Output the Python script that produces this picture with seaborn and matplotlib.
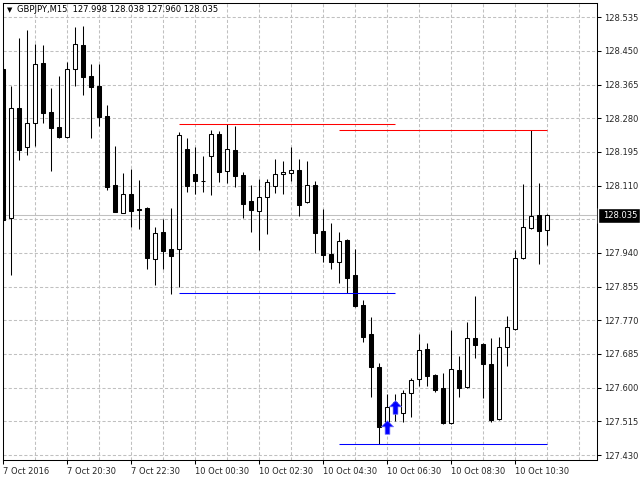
import numpy as np
import pandas as pd
import matplotlib
matplotlib.use("Agg")
import matplotlib.pyplot as plt
from matplotlib.patches import Rectangle
from matplotlib.path import Path
import seaborn as sns

# GBPJPY M15 bars
opens = [128.404, 128.028, 128.305, 128.207, 128.267, 128.419, 128.295, 128.257, 128.234, 128.404,
         128.465, 128.387, 128.362, 128.286, 128.112, 128.042, 128.089, 128.050, 128.053, 127.924,
         127.993, 127.949, 127.949, 128.202, 128.139, 128.122, 128.186, 128.240, 128.146, 128.200,
         128.137, 128.071, 128.047, 128.082, 128.110, 128.139, 128.143, 128.149, 128.069, 128.111,
         127.996, 127.937, 127.918, 127.972, 127.884, 127.809, 127.735, 127.652, 127.500, 127.565,
         127.537, 127.586, 127.621, 127.698, 127.632, 127.600, 127.510, 127.645, 127.601, 127.725,
         127.710, 127.660, 127.520, 127.702, 127.747, 127.927, 128.004, 128.036, 127.998]
highs = [128.419, 128.362, 128.482, 128.503, 128.467, 128.465, 128.356, 128.387, 128.423, 128.511,
         128.514, 128.417, 128.417, 128.314, 128.210, 128.141, 128.151, 128.124, 128.055, 128.005,
         128.026, 128.053, 128.245, 128.230, 128.208, 128.185, 128.250, 128.248, 128.265, 128.261,
         128.145, 128.112, 128.126, 128.126, 128.177, 128.171, 128.207, 128.177, 128.171, 128.121,
         128.050, 128.015, 127.993, 127.975, 127.950, 127.821, 127.778, 127.662, 127.584, 127.584,
         127.594, 127.624, 127.735, 127.712, 127.634, 127.636, 127.746, 127.680, 127.767, 127.831,
         127.713, 127.726, 127.729, 127.781, 127.948, 128.113, 128.250, 128.116, 128.038]
lows = [128.003, 127.884, 128.175, 128.187, 128.210, 128.267, 128.148, 128.230, 128.230, 128.362,
        128.339, 128.230, 128.261, 128.099, 128.043, 128.041, 128.005, 128.000, 127.899, 127.859,
        127.900, 127.836, 127.855, 128.095, 128.088, 128.095, 128.086, 128.120, 128.117, 128.107,
        128.029, 127.994, 127.948, 127.988, 128.092, 128.089, 128.122, 128.033, 128.067, 127.941,
        127.918, 127.900, 127.865, 127.839, 127.803, 127.716, 127.576, 127.457, 127.485, 127.516,
        127.514, 127.525, 127.605, 127.605, 127.590, 127.509, 127.508, 127.577, 127.599, 127.674,
        127.575, 127.514, 127.519, 127.655, 127.746, 127.924, 128.001, 127.912, 127.960]
closes = [128.023, 128.305, 128.200, 128.267, 128.416, 128.294, 128.256, 128.234, 128.404, 128.468,
          128.385, 128.360, 128.284, 128.107, 128.044, 128.089, 128.047, 128.049, 127.927, 127.990,
          127.946, 127.933, 128.238, 128.109, 128.122, 128.121, 128.240, 128.145, 128.202, 128.134,
          128.064, 128.049, 128.081, 128.118, 128.139, 128.144, 128.149, 128.062, 128.111, 127.991,
          127.935, 127.918, 127.970, 127.878, 127.806, 127.729, 127.651, 127.500, 127.552, 127.535,
          127.586, 127.619, 127.695, 127.630, 127.594, 127.510, 127.646, 127.598, 127.725, 127.708,
          127.659, 127.518, 127.703, 127.752, 127.927, 128.005, 128.033, 127.996, 128.035]

# support / resistance segments (price, first bar, last bar)
level_prices = [128.265, 128.250, 127.838, 127.457]
level_start = [22, 42, 22, 42]
level_end = [49, 68, 49, 68]
level_colors = ['#FF0000', '#FF0000', '#0000FF', '#0000FF']

# buy arrows
arrow_idx = [48, 49]
arrow_price = [127.500, 127.550]

bid = 128.035
y_ticks = [127.430, 127.515, 127.600, 127.685, 127.770, 127.855, 127.940,
           128.025, 128.110, 128.195, 128.280, 128.365, 128.450, 128.535]
x_tick_pos = [0, 8, 16, 24, 32, 40, 48, 56, 64]
x_tick_labels = ['7 Oct 2016', '7 Oct 20:30', '7 Oct 22:30', '10 Oct 00:30', '10 Oct 02:30',
                 '10 Oct 04:30', '10 Oct 06:30', '10 Oct 08:30', '10 Oct 10:30']
title = 'GBPJPY,M15  127.998 128.038 127.960 128.035'

df = pd.DataFrame({'open': opens, 'high': highs, 'low': lows, 'close': closes})
df['i'] = np.arange(len(df))
df['bottom'] = df[['open', 'close']].min(axis=1)
df['height'] = (df['close'] - df['open']).abs()
df['fill'] = np.where(df['close'] >= df['open'], 'white', 'black')

sns.set_style("white")
plt.rcParams['font.family'] = ['DejaVu Sans']

fig = plt.figure(figsize=(6.4, 4.8), dpi=100)
ax = fig.add_axes([2.7/640, 20/480, 594.3/640, 457/480])

# dashed grid
for y in y_ticks:
    ax.axhline(y, color='#C0C0C0', lw=0.75, ls=(0, (3, 2)), zorder=0)
for x in range(4, 73, 4):
    ax.axvline(x, color='#C0C0C0', lw=0.75, ls=(0, (3, 2)), zorder=0)

# bid line
ax.axhline(bid, color='#C0C0C0', lw=0.75, zorder=1)

# candles
ax.vlines(df['i'], df['low'], df['high'], color='black', lw=0.75, zorder=2)
ax.bar(df['i'], df['height'], bottom=df['bottom'], width=0.5, color=df['fill'],
       edgecolor='black', linewidth=0.75, zorder=3)

# levels
ax.hlines(level_prices, level_start, level_end, colors=level_colors, lw=0.75, zorder=4)

# arrows
arrow = Path([(0, 1), (0.9, 0.1), (0.35, 0.1), (0.35, -1), (-0.35, -1),
              (-0.35, 0.1), (-0.9, 0.1), (0, 1)])
sns.scatterplot(x=arrow_idx, y=arrow_price, marker=arrow, s=95, color='#0000FF',
                edgecolor='#7070FF', linewidth=0.5, ax=ax, zorder=5)

ax.set_xlim(-0.08, 74.2)
ax.set_ylim(127.4174, 128.571)

ax.yaxis.tick_right()
ax.set_yticks(y_ticks)
ax.set_yticklabels([f'{v:.3f}' for v in y_ticks])
ax.set_xticks(x_tick_pos)
ax.set_xticklabels(x_tick_labels, ha='left')
ax.tick_params(axis='x', bottom=True, direction='out', length=3, width=0.75,
               color='black', labelsize=6, pad=2)
ax.tick_params(axis='y', right=True, left=False, direction='out', length=3, width=0.75,
               color='black', labelsize=6, pad=2)
for s in ax.spines.values():
    s.set_color('black')
    s.set_linewidth(0.75)

# header
fig.text(7/640, 1 - 10/480, '\u25bc', fontsize=5, va='center', ha='left', color='black')
fig.text(17/640, 1 - 10/480, title, fontsize=6, va='center', ha='left', color='black')

# bid price box
fig.add_artist(Rectangle((598/640, (480 - 223)/480), 42/640, 15/480,
                         transform=fig.transFigure, facecolor='black', zorder=5))
fig.text(603/640, 1 - 215.5/480, f'{bid:.3f}', color='white', fontsize=6,
         va='center', ha='left', zorder=6)

fig.savefig('out.png', dpi=100)
